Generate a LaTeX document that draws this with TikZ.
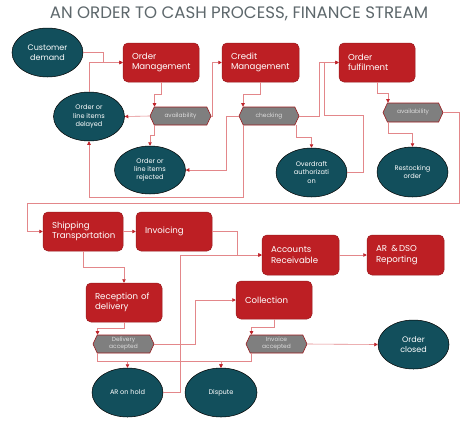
\documentclass[tikz,border=0pt]{standalone}
\usepackage{fontspec}
\setmainfont{Poppins}
\usetikzlibrary{shapes.geometric,shapes.symbols,arrows.meta}
\definecolor{boxred}{HTML}{BD1F24}
\definecolor{boxedge}{HTML}{9A1A1E}
\definecolor{tealc}{HTML}{124F5C}
\definecolor{hexgrey}{HTML}{7F7F7F}
\definecolor{hextext}{HTML}{DDDDDD}
\definecolor{linepink}{HTML}{E3878A}
\definecolor{arrred}{HTML}{C0232A}
\definecolor{titlegrey}{HTML}{5E686C}
\tikzset{
  procbox/.style={rectangle, rounded corners=5pt, fill=boxred, draw=boxedge, line width=0.5pt,
    text=white, align=left, inner sep=0pt, minimum width=76pt, minimum height=39pt,
    text width=58pt, font=\fontsize{8.6}{10.5}\selectfont},
  stateell/.style={ellipse, fill=tealc, draw=black, line width=0.5pt, text=white, align=center,
    inner sep=0pt, minimum width=71pt, minimum height=49pt, font=\fontsize{6.6}{8.2}\selectfont},
  bigell/.style={stateell, font=\fontsize{8}{9.8}\selectfont},
  hexnode/.style={shape=signal, signal to=east and west, signal pointer angle=130,
    fill=hexgrey, draw=boxedge, line width=0.6pt, text=hextext, inner sep=0pt,
    minimum width=61pt, minimum height=18pt, align=center, font=\fontsize{5.9}{7}\selectfont},
  conn/.style={draw=linepink, line width=0.6pt, -{Triangle[length=3.5pt,width=3.5pt,color=arrred]}}
}
\begin{document}
\begin{tikzpicture}[x=1pt,y=-1pt]
\useasboundingbox (0,0) rectangle (470,424);
\fill[white] (0,0) rectangle (470,424);
\node[text=titlegrey, font=\fontsize{16.6}{18}\selectfont, inner sep=0pt] (title) at (239,14) {AN ORDER TO CASH PROCESS, FINANCE STREAM};

% top row
\node[bigell] (cust) at (47.5,52.5) {Customer\\demand};
\node[procbox] (om) at (161,62.5) {Order\\Management};
\node[procbox, minimum width=77pt, text width=59pt] (cm) at (260.5,62.5) {Credit\\Management};
\node[procbox] (of) at (377,62.5) {Order\\fulfilment};

\node[stateell] (del) at (89,116.5) {Order or\\line items\\delayed};
\node[hexnode] (av1) at (180.5,116) {availability};
\node[stateell, minimum height=48pt] (rej) at (150,170) {Order or\\line items\\rejected};
\node[hexnode, minimum width=60pt] (chk) at (269,116) {checking};
\node[stateell] (od) at (311.5,172.5) {Overdraft\\authorizati\\on};
\node[hexnode, minimum width=60pt, minimum height=19pt] (av2) at (413,112.5) {availability};
\node[stateell, minimum height=50pt] (rest) at (412.5,172) {Restocking\\order};

% lower part
\node[procbox, minimum width=80pt, text width=62pt] (ship) at (83,231.5) {Shipping\\Transportation};
\node[procbox] (inv) at (174,231.5) {Invoicing};
\node[procbox, minimum width=77pt, minimum height=40pt, text width=59pt] (ar) at (300.5,255) {Accounts\\Receivable};
\node[procbox, minimum width=77pt, minimum height=40pt, text width=59pt] (dso) at (405.5,255) {AR \,\&\,DSO\\Reporting};
\node[procbox] (rec) at (124,302.5) {Reception of\\delivery};
\node[procbox, minimum height=38pt] (coll) at (274,300) {Collection};
\node[hexnode] (da) at (123.5,344) {Delivery\\accepted};
\node[hexnode] (ia) at (276.5,344) {Invoice\\accepted};
\node[stateell] (arhold) at (127.5,392.5) {AR on hold};
\node[stateell, minimum width=72pt] (disp) at (221,392.5) {Dispute};
\node[bigell] (closed) at (413.5,344.5) {Order\\closed};

% connectors top
\draw[conn] (cust.east) -- ++(20,0) |- (om.west);
\draw[conn] (del.north) |- (om.west);
\draw[conn] (om.south) -- ++(0,12) -| ([xshift=-26pt]av1.north);
\draw[conn] (av1.west) -- (del.east);
\draw[conn] ([xshift=-26pt]av1.south) -- ++(0,10) -| (rej.north);
\draw[conn] (av1.east) -- ++(1,0) |- (cm.west);
\draw[conn] (cm.south) -- ++(0,12) -| ([xshift=-26pt]chk.north);
\draw[conn] (chk.west) -- ++(-12,0) |- (rej.east);
\draw[conn] ([xshift=-26pt]chk.south) -- ++(0,72) -| (del.south);
\draw[conn] (chk.east) -- ++(20,0) |- (of.west);
\draw[conn] (od.east) -- ++(16,0) -- ++(0,-57) -- ++(-39,0) |- (of.west);
\draw[conn] ([xshift=27pt]chk.south) -- ++(0,12) -| (od.north);
\draw[conn] (of.south) -- ++(0,11) -| ([xshift=-25pt]av2.north);
\draw[conn] ([xshift=-25pt]av2.south) -- ++(0,11) -| (rest.north);
\draw[conn] (av2.east) -- ++(16,0) -- ++(0,90.5) -| ([xshift=-15pt]ship.west) -- (ship.west);

% connectors bottom
\draw[conn] (ship.east) -- (inv.west);
\draw[conn] (inv.east) -- ++(25,0) |- (ar.west);
\draw[conn] (arhold.east) -- ++(17.5,0) |- (ar.west);
\draw[conn] (ar.east) -- (dso.west);
\draw[conn] (ship.south) -- ++(0,16) -| (rec.north);
\draw[conn] (rec.south) -- ++(0,6) -| ([xshift=-26pt]da.north);
\draw[conn] (da.east) -- ++(41,0) |- (coll.west);
\draw[conn] ([xshift=-26pt]da.south) -- ++(0,8) -| (arhold.north);
\draw[conn] ([xshift=-26pt]da.south) -- ++(0,8) -| (disp.north);
\draw[conn] ([xshift=-25pt]ia.south) -- ++(0,8) -| (disp.north);
\draw[conn] (coll.south) -- ++(0,8) -| ([xshift=-25pt]ia.north);
\draw[conn] (ia.east) -- (closed.west);
\end{tikzpicture}
\end{document}
